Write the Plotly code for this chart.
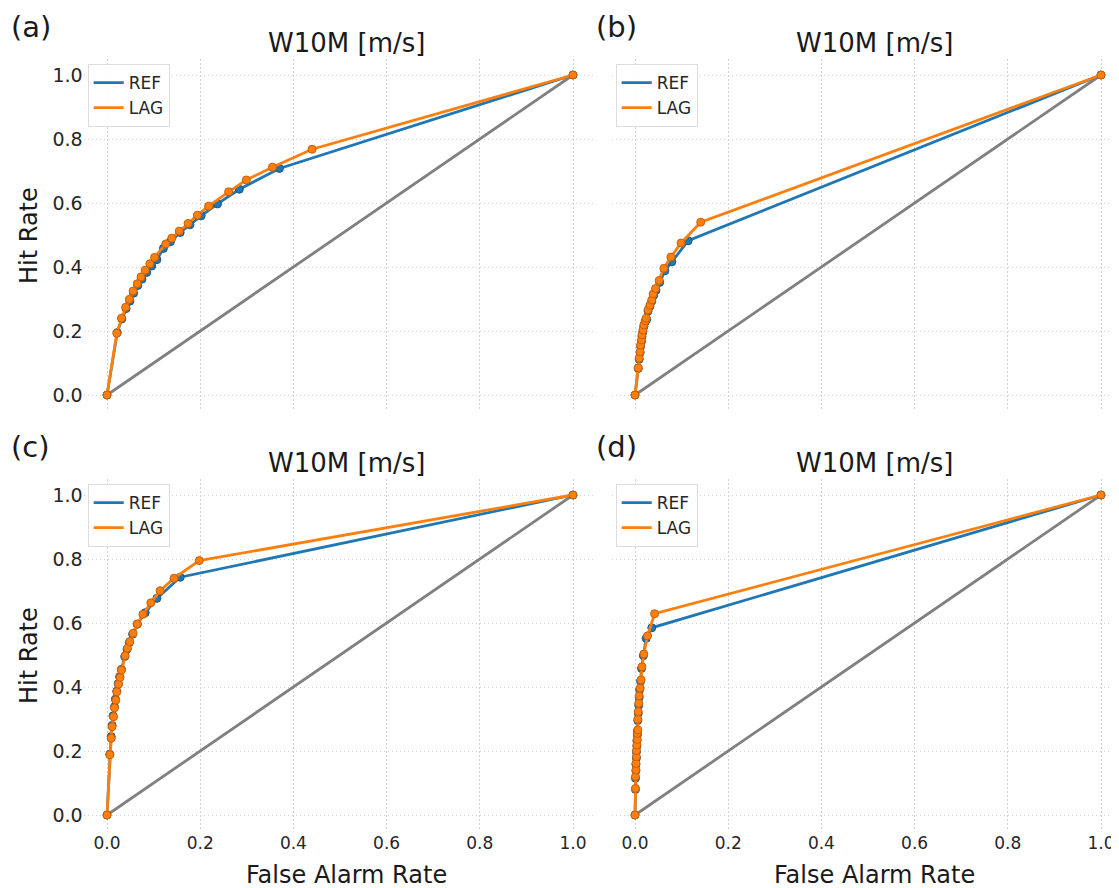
import plotly.graph_objects as go

# page body has an 8px margin, so the figure is sized/offset to fill the 1119x888 window
OFF = 8
W, H = 1119 - OFF, 888 - OFF
FONT = "DejaVu Sans"

# ---------------- data ----------------
diag_x = [0.0, 1.0]
diag_y = [0.0, 1.0]

a_ref_far = [0.0, 0.022, 0.032, 0.041, 0.049, 0.057, 0.066, 0.075, 0.085, 0.096, 0.107,
             0.121, 0.136, 0.157, 0.178, 0.202, 0.237, 0.284, 0.370, 1.0]
a_ref_hr = [0.0, 0.195, 0.238, 0.270, 0.293, 0.318, 0.342, 0.362, 0.383, 0.403, 0.423,
            0.458, 0.479, 0.508, 0.532, 0.560, 0.597, 0.643, 0.708, 1.0]
a_lag_far = [0.0, 0.021, 0.031, 0.040, 0.048, 0.056, 0.065, 0.073, 0.082, 0.092, 0.102,
             0.126, 0.139, 0.155, 0.174, 0.194, 0.218, 0.261, 0.299, 0.355, 0.440, 1.0]
a_lag_hr = [0.0, 0.193, 0.240, 0.274, 0.299, 0.325, 0.348, 0.369, 0.390, 0.410, 0.430,
            0.472, 0.490, 0.512, 0.536, 0.562, 0.590, 0.635, 0.672, 0.712, 0.768, 1.0]

b_ref_far = [0.0, 0.007, 0.009, 0.011, 0.012, 0.014, 0.015, 0.017, 0.019, 0.022, 0.025,
             0.028, 0.032, 0.036, 0.040, 0.045, 0.053, 0.064, 0.079, 0.114, 1.0]
b_ref_hr = [0.0, 0.083, 0.112, 0.132, 0.152, 0.168, 0.183, 0.198, 0.214, 0.228, 0.236,
            0.262, 0.277, 0.293, 0.311, 0.327, 0.352, 0.388, 0.416, 0.482, 1.0]
b_lag_far = [0.0, 0.007, 0.009, 0.011, 0.012, 0.014, 0.015, 0.017, 0.019, 0.022, 0.024,
             0.028, 0.032, 0.036, 0.039, 0.044, 0.052, 0.062, 0.077, 0.099, 0.141, 1.0]
b_lag_hr = [0.0, 0.085, 0.115, 0.135, 0.156, 0.172, 0.188, 0.203, 0.219, 0.232, 0.240,
            0.266, 0.281, 0.297, 0.316, 0.333, 0.358, 0.396, 0.431, 0.475, 0.540, 1.0]

c_ref_far = [0.0, 0.006, 0.009, 0.011, 0.013, 0.016, 0.018, 0.021, 0.024, 0.027, 0.031,
             0.038, 0.043, 0.048, 0.055, 0.065, 0.082, 0.107, 0.157, 1.0]
c_ref_hr = [0.0, 0.190, 0.245, 0.280, 0.310, 0.338, 0.362, 0.387, 0.410, 0.432, 0.455,
            0.495, 0.518, 0.539, 0.565, 0.596, 0.632, 0.677, 0.743, 1.0]
c_lag_far = [0.0, 0.006, 0.009, 0.011, 0.014, 0.016, 0.019, 0.021, 0.025, 0.028, 0.031,
             0.039, 0.044, 0.049, 0.056, 0.065, 0.077, 0.094, 0.114, 0.144, 0.198, 1.0]
c_lag_hr = [0.0, 0.188, 0.240, 0.276, 0.307, 0.335, 0.359, 0.385, 0.409, 0.430, 0.453,
            0.498, 0.521, 0.542, 0.568, 0.597, 0.627, 0.663, 0.701, 0.740, 0.795, 1.0]

d_ref_far = [0.0, 0.001, 0.001, 0.002, 0.002, 0.003, 0.003, 0.004, 0.004, 0.005, 0.005,
             0.006, 0.007, 0.008, 0.009, 0.010, 0.012, 0.014, 0.018, 0.024, 0.036, 1.0]
d_ref_hr = [0.0, 0.080, 0.115, 0.138, 0.158, 0.178, 0.197, 0.215, 0.232, 0.250, 0.262,
            0.295, 0.318, 0.343, 0.367, 0.392, 0.418, 0.458, 0.498, 0.552, 0.585, 1.0]
d_lag_far = [0.0, 0.001, 0.001, 0.002, 0.002, 0.003, 0.003, 0.004, 0.005, 0.005, 0.006,
             0.006, 0.007, 0.008, 0.009, 0.011, 0.013, 0.015, 0.019, 0.027, 0.042, 1.0]
d_lag_hr = [0.0, 0.083, 0.120, 0.141, 0.161, 0.182, 0.201, 0.219, 0.236, 0.255, 0.266,
            0.299, 0.323, 0.349, 0.372, 0.396, 0.422, 0.463, 0.503, 0.560, 0.629, 1.0]

panels = [
    ("(a)", a_ref_far, a_ref_hr, a_lag_far, a_lag_hr),
    ("(b)", b_ref_far, b_ref_hr, b_lag_far, b_lag_hr),
    ("(c)", c_ref_far, c_ref_hr, c_lag_far, c_lag_hr),
    ("(d)", d_ref_far, d_ref_hr, d_lag_far, d_lag_hr),
]
series_names = ["REF", "LAG"]
panel_title = "W10M [m/s]"
xlabel = "False Alarm Rate"
ylabel = "Hit Rate"
tick_vals = [0.0, 0.2, 0.4, 0.6, 0.8, 1.0]
tick_text = ["0.0", "0.2", "0.4", "0.6", "0.8", "1.0"]

# ---------------- layout geometry (page pixels) ----------------
col_px = [(83.7, 596.3), (611.7, 1119.0)]
row_px = [(59.0, 411.0), (479.0, 831.0)]
xranges = [[-0.05, 1.05], [-0.05, 1.0386]]

def px_x(p):
    return (p - OFF) / W

def px_y(p):
    return 1 - (p - OFF) / H

BLUE = "#1f77b4"
ORANGE = "#ff7f0e"
fig = go.Figure()
layout = dict(
    width=W, height=H, margin=dict(l=0, r=0, t=0, b=0, autoexpand=False),
    paper_bgcolor="white", plot_bgcolor="white",
    font=dict(family=FONT, color="#262626"),
    annotations=[],
)

for i, (lab, rf, rh, lf, lh) in enumerate(panels):
    r, c = divmod(i, 2)
    n = i + 1
    xa = "x" if n == 1 else f"x{n}"
    ya = "y" if n == 1 else f"y{n}"
    leg = "legend" if n == 1 else f"legend{n}"

    fig.add_trace(go.Scatter(x=diag_x, y=diag_y, mode="lines",
                             line=dict(color="#808080", width=2.8),
                             showlegend=False, xaxis=xa, yaxis=ya, hoverinfo="skip"))
    for name, fx, hy, col, edge in [("REF", rf, rh, BLUE, "#17598a"),
                                    ("LAG", lf, lh, ORANGE, "#c85f06")]:
        fig.add_trace(go.Scatter(x=fx, y=hy, mode="lines", name=name,
                                 line=dict(color=col, width=2.8),
                                 legend=leg, xaxis=xa, yaxis=ya))
        fig.add_trace(go.Scatter(x=fx, y=hy, mode="markers", name=name,
                                 marker=dict(color=col, size=8,
                                             line=dict(color=edge, width=1)),
                                 showlegend=False, xaxis=xa, yaxis=ya))

    x0, x1 = col_px[c]
    y0, y1 = row_px[r]
    axis_common = dict(showline=False, zeroline=False, showgrid=True, automargin=False,
                       gridcolor="#d0d0d0", gridwidth=1, griddash="1.5px,2.5px",
                       tickvals=tick_vals, ticktext=tick_text, ticks="")
    layout["xaxis" if n == 1 else f"xaxis{n}"] = dict(
        axis_common, domain=[px_x(x0), px_x(x1)], range=xranges[c],
        anchor=ya, showticklabels=(r == 1), ticklabelstandoff=0,
        tickfont=dict(family=FONT, size=17, color="#262626"))
    layout["yaxis" if n == 1 else f"yaxis{n}"] = dict(
        axis_common, domain=[px_y(y1), px_y(y0)], range=[-0.05, 1.05],
        anchor=xa, showticklabels=(c == 0),
        tickfont=dict(family=FONT, size=19, color="#262626"))
    layout[leg] = dict(x=px_x(x0 + 4), y=px_y(y0 + 5), xanchor="left", yanchor="top",
                       bgcolor="rgba(255,255,255,0.9)", bordercolor="#dcdcdc",
                       borderwidth=1, font=dict(family=FONT, size=17, color="#262626"),
                       itemwidth=30, tracegroupgap=0)

    cx = (x0 + (x1 if c == 0 else 1124.3)) / 2 + 6
    layout["annotations"].append(dict(
        text=panel_title, x=px_x(cx), y=px_y(y0 - 16), xref="paper", yref="paper",
        showarrow=False, xanchor="center", yanchor="middle",
        font=dict(family=FONT, size=26, color="#1a1a1a")))
    layout["annotations"].append(dict(
        text=lab, x=px_x(9 if c == 0 else 594), y=px_y(y0 - 32), xref="paper", yref="paper",
        showarrow=False, xanchor="left", yanchor="middle",
        font=dict(family=FONT, size=29, color="#1a1a1a")))
    if c == 0:
        layout["annotations"].append(dict(
            text=ylabel, x=px_x(29), y=px_y((y0 + y1) / 2 + 1), xref="paper", yref="paper",
            showarrow=False, xanchor="center", yanchor="middle", textangle=-90,
            font=dict(family=FONT, size=24, color="#1a1a1a")))
    if r == 1:
        layout["annotations"].append(dict(
            text=xlabel, x=px_x(cx), y=px_y(875), xref="paper", yref="paper",
            showarrow=False, xanchor="center", yanchor="middle",
            font=dict(family=FONT, size=24, color="#1a1a1a")))

fig.update_layout(**layout)
fig.write_html("out.html")
